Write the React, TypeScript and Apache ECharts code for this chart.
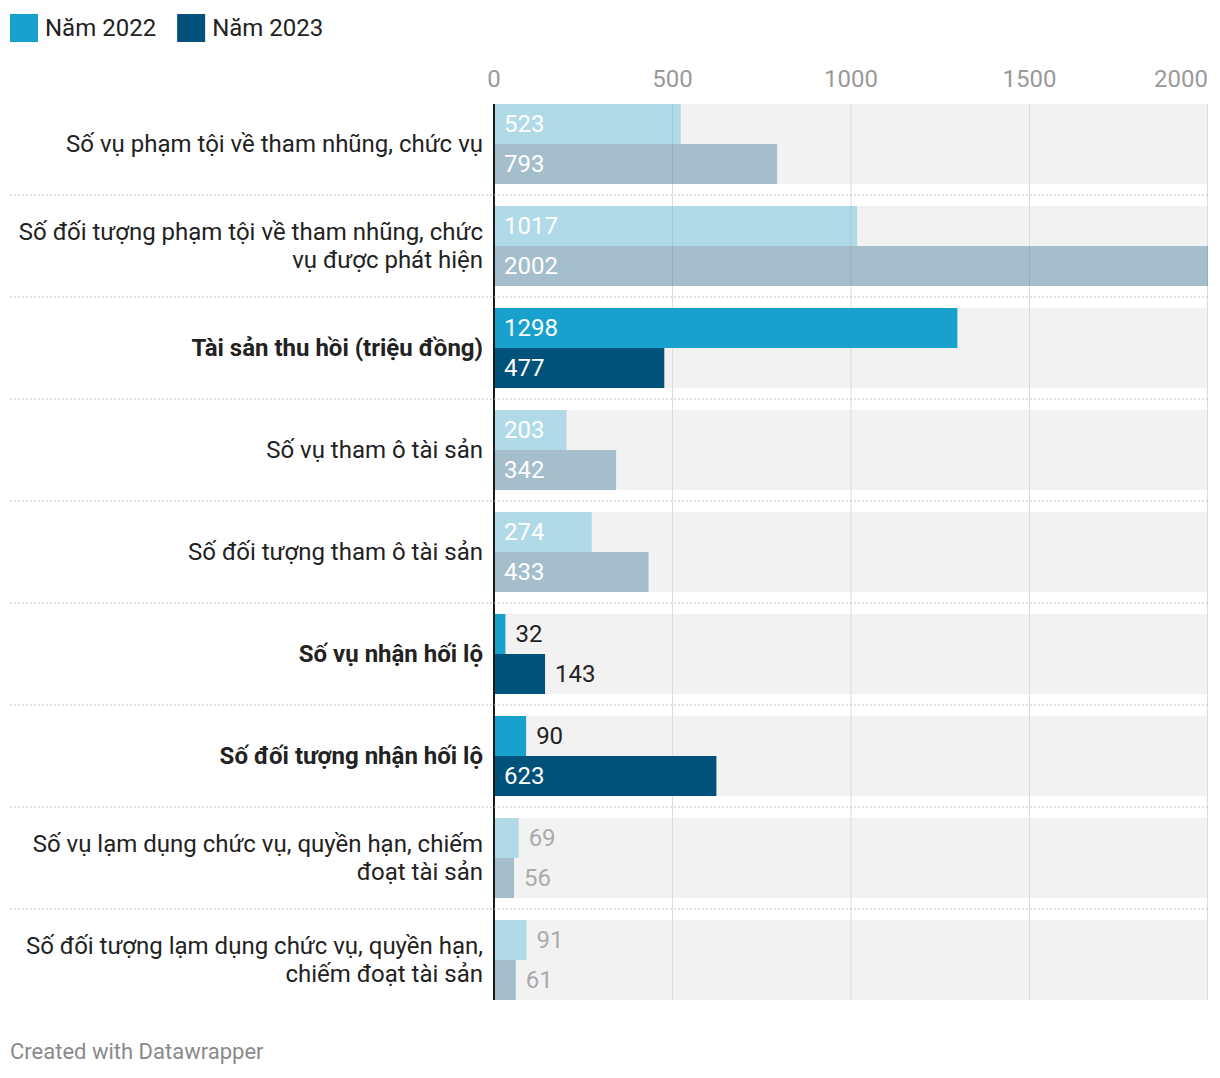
import React, { useEffect, useRef } from "react";
import * as echarts from "echarts";

const CATEGORIES = [
  "Số vụ phạm tội về tham nhũng, chức vụ",
  "Số đối tượng phạm tội về tham nhũng, chức vụ được phát hiện",
  "Tài sản thu hồi (triệu đồng)",
  "Số vụ tham ô tài sản",
  "Số đối tượng tham ô tài sản",
  "Số vụ nhận hối lộ",
  "Số đối tượng nhận hối lộ",
  "Số vụ lạm dụng chức vụ, quyền hạn, chiếm đoạt tài sản",
  "Số đối tượng lạm dụng chức vụ, quyền hạn, chiếm đoạt tài sản",
];
const HIGHLIGHTED = [false, false, true, false, false, true, true, false, false];
const SERIES_NAMES = ["Năm 2022", "Năm 2023"];
const VALUES_2022 = [523, 1017, 1298, 203, 274, 32, 90, 69, 91];
const VALUES_2023 = [793, 2002, 477, 342, 433, 143, 623, 56, 61];
const X_TICKS = [0, 500, 1000, 1500, 2000];

const FONT = "Roboto, 'Noto Sans', sans-serif";
const FS = 24;
const COLORS = ["#18a1cd", "#01527a"];
const FADED = ["rgba(24,161,205,0.3)", "rgba(1,82,122,0.32)"];
const BAND = 80;
const BAR_W = 40;
const INSIDE_MIN = 160;
const LABEL_W = 478;

function barData(values: number[], s: number) {
  return values.map((v, i) => {
    const hi = HIGHLIGHTED[i];
    const inside = v >= INSIDE_MIN;
    return {
      value: v,
      itemStyle: { color: hi ? COLORS[s] : FADED[s] },
      label: {
        position: inside ? "insideLeft" : "right",
        color: inside ? "#ffffff" : hi ? "#222222" : "#aaaaaa",
      },
    };
  });
}

function wrapLabel(text: string, bold: boolean): string {
  const ctx = document.createElement("canvas").getContext("2d");
  if (!ctx) return text;
  ctx.font = `${bold ? "bold " : ""}${FS}px Roboto`;
  const words = text.split(" ");
  const lines: string[] = [];
  let cur = "";
  words.forEach((w) => {
    const test = cur ? cur + " " + w : w;
    if (cur && ctx.measureText(test).width > LABEL_W) {
      lines.push(cur);
      cur = w;
    } else {
      cur = test;
    }
  });
  if (cur) lines.push(cur);
  return lines.join("\n");
}

export default function App() {
  const ref = useRef<HTMLDivElement>(null);
  useEffect(() => {
    if (!ref.current) return;
    const chart = echarts.init(ref.current, null, { renderer: "svg" });
    const n = CATEGORIES.length;
    const xMax = X_TICKS[X_TICKS.length - 1];

    const bandsItem = (params: any, api: any) => {
      const i = api.value(1);
      const c = api.coord([0, i]);
      const step = api.size([0, 1])[1];
      const xEnd = api.coord([xMax, i])[0];
      const top = c[1] - BAND / 2;
      const bottom = i < n - 1 ? top + step : top + BAND;
      const children: any[] = [
        {
          type: "rect",
          shape: { x: c[0], y: top, width: xEnd - c[0], height: BAND },
          style: { fill: "#f2f2f2" },
        },
      ];
      X_TICKS.slice(1).forEach((t) => {
        const x = Math.min(api.coord([t, i])[0], xEnd - 0.5);
        children.push({
          type: "line",
          shape: { x1: x, y1: top, x2: x, y2: bottom },
          style: { stroke: "#dcdcdc", lineWidth: 1 },
        });
      });
      return { type: "group", children };
    };

    const overlayItem = (params: any, api: any) => {
      const i = api.value(1);
      const c = api.coord([0, i]);
      const step = api.size([0, 1])[1];
      const xEnd = api.coord([xMax, i])[0];
      const top = c[1] - BAND / 2;
      const bottom = i < n - 1 ? top + step : top + BAND;
      const children: any[] = [
        {
          type: "line",
          shape: { x1: c[0], y1: top, x2: c[0], y2: bottom },
          style: { stroke: "#1a1a1a", lineWidth: 2 },
        },
      ];
      if (i > 0) {
        const y = top - (step - BAND) / 2;
        children.push({
          type: "line",
          shape: { x1: 10, y1: y, x2: xEnd, y2: y },
          style: { stroke: "#c4c4c4", lineWidth: 1, lineDash: [2, 2] },
        });
      }
      return { type: "group", children };
    };

    const rowData = CATEGORIES.map((_, i) => [0, i]);

    chart.setOption({
      animation: false,
      textStyle: { fontFamily: FONT },
      legend: {
        left: 10,
        top: 14,
        padding: 0,
        itemWidth: 28,
        itemHeight: 28,
        itemGap: 21,
        icon: "rect",
        data: SERIES_NAMES,
        selectedMode: false,
        textStyle: { fontSize: FS, color: "#222", fontFamily: FONT, padding: [0, 0, 0, 2] },
      },
      grid: { left: 494, right: 12, top: 93, bottom: 67, containLabel: false },
      xAxis: {
        type: "value",
        position: "top",
        min: 0,
        max: xMax,
        interval: 500,
        axisLine: { show: false },
        axisTick: { show: false },
        splitLine: { show: false },
        axisLabel: {
          color: "#9a9a9a",
          fontSize: FS,
          fontFamily: FONT,
          margin: 2,
          alignMaxLabel: "right",
          formatter: (v: number) => String(v),
        },
      },
      yAxis: {
        type: "category",
        inverse: true,
        data: CATEGORIES.map((c, i) => ({
          value: c,
          textStyle: { fontWeight: HIGHLIGHTED[i] ? "bold" : "normal" },
        })),
        axisLine: { show: false },
        axisTick: { show: false },
        axisLabel: {
          color: "#222",
          fontSize: FS,
          fontFamily: FONT,
          margin: 11,
          lineHeight: 28,
          align: "right",
          formatter: (v: string) => wrapLabel(v, HIGHLIGHTED[CATEGORIES.indexOf(v)]),
        },
      },
      series: [
        {
          type: "custom",
          z: 1,
          silent: true,
          clip: false,
          renderItem: bandsItem,
          data: rowData,
          encode: { x: 0, y: 1 },
        },
        {
          name: SERIES_NAMES[0],
          type: "bar",
          z: 2,
          barWidth: BAR_W,
          barGap: "0%",
          itemStyle: { color: COLORS[0] },
          label: { show: true, fontSize: FS, fontFamily: FONT, distance: 10, formatter: "{c}" },
          data: barData(VALUES_2022, 0),
        },
        {
          name: SERIES_NAMES[1],
          type: "bar",
          z: 2,
          barWidth: BAR_W,
          barGap: "0%",
          itemStyle: { color: COLORS[1] },
          label: { show: true, fontSize: FS, fontFamily: FONT, distance: 10, formatter: "{c}" },
          data: barData(VALUES_2023, 1),
        },
        {
          type: "custom",
          z: 3,
          silent: true,
          clip: false,
          renderItem: overlayItem,
          data: rowData,
          encode: { x: 0, y: 1 },
        },
      ],
      graphic: [
        {
          type: "text",
          left: 10,
          top: 1040,
          style: { text: "Created with Datawrapper", fill: "#8a8a8a", fontSize: 22, fontFamily: FONT },
        },
      ],
    });
    return () => chart.dispose();
  }, []);
  return (
    <div
      ref={ref}
      style={{ position: "absolute", left: 0, top: 0, width: 1220, height: 1078, background: "#fff" }}
    />
  );
}
